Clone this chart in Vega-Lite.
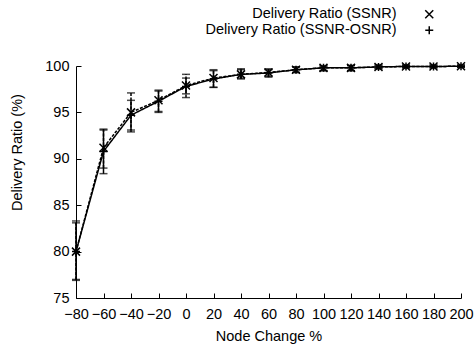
{
  "$schema": "https://vega.github.io/schema/vega-lite/v6.json",
  "autosize": "none",
  "width": 385,
  "height": 232,
  "padding": {"left": 76, "top": 66, "right": 14, "bottom": 50},
  "background": "white",
  "config": {
    "font": "Liberation Sans",
    "view": {"stroke": null},
    "axis": {"grid": false, "domainColor": "black", "tickColor": "black", "labelColor": "black", "titleColor": "black", "labelFontSize": 14.5, "titleFontSize": 14.5, "titleFontWeight": "normal", "tickSize": -5, "domainWidth": 1, "tickWidth": 1}
  },
  "data": {"values": [
    {"x": -80, "series": "Delivery Ratio (SSNR)", "y": 80.0, "lo": 77.0, "hi": 83.3},
    {"x": -60, "series": "Delivery Ratio (SSNR)", "y": 91.2, "lo": 89.0, "hi": 93.2},
    {"x": -40, "series": "Delivery Ratio (SSNR)", "y": 95.0, "lo": 92.9, "hi": 97.1},
    {"x": -20, "series": "Delivery Ratio (SSNR)", "y": 96.3, "lo": 95.1, "hi": 97.4},
    {"x": 0, "series": "Delivery Ratio (SSNR)", "y": 97.9, "lo": 96.6, "hi": 99.1},
    {"x": 20, "series": "Delivery Ratio (SSNR)", "y": 98.7, "lo": 97.7, "hi": 99.6},
    {"x": 40, "series": "Delivery Ratio (SSNR)", "y": 99.1, "lo": 98.6, "hi": 99.7},
    {"x": 60, "series": "Delivery Ratio (SSNR)", "y": 99.3, "lo": 98.8, "hi": 99.7},
    {"x": 80, "series": "Delivery Ratio (SSNR)", "y": 99.6, "lo": 99.3, "hi": 99.9},
    {"x": 100, "series": "Delivery Ratio (SSNR)", "y": 99.8, "lo": 99.5, "hi": 100.0},
    {"x": 120, "series": "Delivery Ratio (SSNR)", "y": 99.8, "lo": 99.5, "hi": 100.05},
    {"x": 140, "series": "Delivery Ratio (SSNR)", "y": 99.9, "lo": 99.7, "hi": 100.1},
    {"x": 160, "series": "Delivery Ratio (SSNR)", "y": 99.95, "lo": 99.8, "hi": 100.1},
    {"x": 180, "series": "Delivery Ratio (SSNR)", "y": 99.95, "lo": 99.8, "hi": 100.1},
    {"x": 200, "series": "Delivery Ratio (SSNR)", "y": 99.97, "lo": 99.85, "hi": 100.1},
    {"x": -80, "series": "Delivery Ratio (SSNR-OSNR)", "y": 80.0, "lo": 76.9, "hi": 83.1},
    {"x": -60, "series": "Delivery Ratio (SSNR-OSNR)", "y": 90.8, "lo": 88.4, "hi": 93.1},
    {"x": -40, "series": "Delivery Ratio (SSNR-OSNR)", "y": 94.7, "lo": 93.1, "hi": 96.3},
    {"x": -20, "series": "Delivery Ratio (SSNR-OSNR)", "y": 96.2, "lo": 95.0, "hi": 97.3},
    {"x": 0, "series": "Delivery Ratio (SSNR-OSNR)", "y": 97.8, "lo": 97.0, "hi": 98.7},
    {"x": 20, "series": "Delivery Ratio (SSNR-OSNR)", "y": 98.6, "lo": 97.7, "hi": 99.5},
    {"x": 40, "series": "Delivery Ratio (SSNR-OSNR)", "y": 99.1, "lo": 98.7, "hi": 99.6},
    {"x": 60, "series": "Delivery Ratio (SSNR-OSNR)", "y": 99.25, "lo": 98.9, "hi": 99.6},
    {"x": 80, "series": "Delivery Ratio (SSNR-OSNR)", "y": 99.6, "lo": 99.3, "hi": 99.9},
    {"x": 100, "series": "Delivery Ratio (SSNR-OSNR)", "y": 99.8, "lo": 99.5, "hi": 100.0},
    {"x": 120, "series": "Delivery Ratio (SSNR-OSNR)", "y": 99.8, "lo": 99.5, "hi": 100.05},
    {"x": 140, "series": "Delivery Ratio (SSNR-OSNR)", "y": 99.9, "lo": 99.7, "hi": 100.1},
    {"x": 160, "series": "Delivery Ratio (SSNR-OSNR)", "y": 99.95, "lo": 99.8, "hi": 100.1},
    {"x": 180, "series": "Delivery Ratio (SSNR-OSNR)", "y": 99.95, "lo": 99.8, "hi": 100.1},
    {"x": 200, "series": "Delivery Ratio (SSNR-OSNR)", "y": 99.97, "lo": 99.85, "hi": 100.1}
  ]},
  "encoding": {
    "x": {"field": "x", "type": "quantitative", "scale": {"domain": [-80, 200], "nice": false, "zero": false},
      "axis": {"values": [-80, -60, -40, -20, 0, 20, 40, 60, 80, 100, 120, 140, 160, 180, 200], "title": "Node Change %", "labelPadding": 14, "titlePadding": 9, "labelFlush": false}}
  },
  "layer": [
    {
      "mark": {"type": "rule", "strokeWidth": 1.5, "color": "black"},
      "encoding": {
        "y": {"field": "lo", "type": "quantitative", "scale": {"domain": [75, 100], "nice": false, "zero": false},
          "axis": {"values": [75, 80, 85, 90, 95, 100], "title": "Delivery Ratio (%)", "labelPadding": 12, "titleX": -59, "titleY": 86, "titleAlign": "center", "titleBaseline": "middle", "titleAngle": -90}},
        "y2": {"field": "hi"},
        "strokeDash": {"field": "series", "type": "nominal", "scale": {"domain": ["Delivery Ratio (SSNR)", "Delivery Ratio (SSNR-OSNR)"], "range": [[3, 1.5], [1, 0]]}, "legend": null}
      }
    },
    {
      "mark": {"type": "tick", "orient": "horizontal", "size": 8, "thickness": 1.5, "color": "black"},
      "encoding": {"y": {"field": "lo", "type": "quantitative"}}
    },
    {
      "mark": {"type": "tick", "orient": "horizontal", "size": 8, "thickness": 1.5, "color": "black"},
      "encoding": {"y": {"field": "hi", "type": "quantitative"}}
    },
    {
      "mark": {"type": "line", "strokeWidth": 1.5, "color": "black"},
      "encoding": {
        "y": {"field": "y", "type": "quantitative"},
        "strokeDash": {"field": "series", "type": "nominal", "legend": null}
      }
    },
    {
      "mark": {"type": "point", "filled": false, "size": 64, "strokeWidth": 1.5, "color": "black", "opacity": 1},
      "encoding": {
        "y": {"field": "y", "type": "quantitative"},
        "shape": {"field": "series", "type": "nominal",
          "scale": {"range": ["M-1,-1L1,1M-1,1L1,-1", "M-1,0H1M0,-1V1"]},
          "legend": {
            "title": null, "orient": "none", "legendX": 346, "legendY": -59, "padding": 0,
            "labelAlign": "right", "labelOffset": -40, "labelFontSize": 14.5, "labelColor": "black", "labelLimit": 400,
            "symbolSize": 64, "symbolStrokeWidth": 1.5, "symbolStrokeColor": "black", "rowPadding": 0
          }
        }
      }
    }
  ]
}
